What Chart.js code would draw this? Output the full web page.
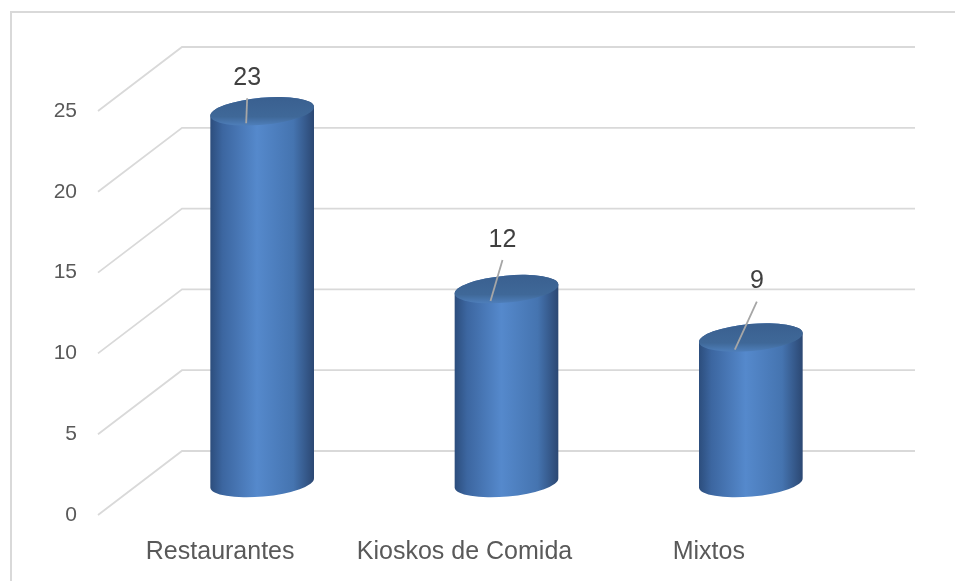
<!DOCTYPE html>
<html>
<head>
<meta charset="utf-8">
<script src="https://cdn.jsdelivr.net/npm/chart.js@4"></script>
<style>
  html, body { margin: 0; padding: 0; background: #fff; }
  #wrap { width: 955px; height: 581px; }
</style>
</head>
<body>
<div id="wrap"><canvas id="barChart" width="955" height="581"></canvas></div>
<script>
const categories = ['Restaurantes', 'Kioskos de Comida', 'Mixtos'];
const values = [23, 12, 9];
const yTicks = [0, 5, 10, 15, 20, 25];

// where each value label sits relative to the top of its cylinder (moved by hand in the original)
const labelShiftX = [-15, -4, 6];
const labelShiftY = [-33, -49, -56];

const DEPTH_X = 84, DEPTH_Y = -64;   // 3D depth of the floor/back wall
const GRID = '#d9d9d9';

const chart3d = {
  id: 'chart3d',
  beforeDraw(chart) {
    const c = chart.ctx;
    c.save();
    c.strokeStyle = GRID;
    c.lineWidth = 2;
    c.beginPath();
    c.moveTo(11, 581); c.lineTo(11, 12); c.lineTo(955, 12);
    c.stroke();
    c.restore();
  },
  beforeDatasetsDraw(chart) {
    const c = chart.ctx, y = chart.scales.y, a = chart.chartArea;
    c.save();
    c.strokeStyle = GRID;
    c.lineWidth = 1.8;
    yTicks.forEach(t => {
      const py = y.getPixelForValue(t);
      c.beginPath();
      c.moveTo(a.left, py);
      c.lineTo(a.left + DEPTH_X, py + DEPTH_Y);
      c.lineTo(a.right + DEPTH_X, py + DEPTH_Y);
      c.stroke();
    });
    c.restore();
  },
  afterDatasetsDraw(chart) {
    const c = chart.ctx;
    const meta = chart.getDatasetMeta(0);
    const rot = -0.09, ry = 13.5;
    c.save();
    meta.data.forEach((bar, i) => {
      const cx = bar.x + DEPTH_X / 2;
      const top = bar.y + DEPTH_Y / 2;
      const base = bar.base + DEPTH_Y / 2;
      const rx = bar.width / 2;

      const g = c.createLinearGradient(cx - rx, 0, cx + rx, 0);
      g.addColorStop(0, '#2c4d7c');
      g.addColorStop(0.12, '#3c66a0');
      g.addColorStop(0.45, '#5589cc');
      g.addColorStop(0.8, '#4574b0');
      g.addColorStop(1, '#2b4772');
      c.beginPath();
      c.ellipse(cx, top, rx, ry, rot, Math.PI, 0, false);
      c.ellipse(cx, base, rx, ry, rot, 0, Math.PI, false);
      c.closePath();
      c.fillStyle = g;
      c.fill();

      const tg = c.createLinearGradient(0, top - ry, 0, top + ry);
      tg.addColorStop(0, '#3a6090');
      tg.addColorStop(0.7, '#3f6898');
      tg.addColorStop(1, '#4d7db8');
      c.beginPath();
      c.ellipse(cx, top, rx, ry, rot, 0, Math.PI * 2);
      c.fillStyle = tg;
      c.fill();

      // value label with leader line
      const lx = cx + labelShiftX[i], ly = top + labelShiftY[i];
      c.strokeStyle = '#a6a6a6';
      c.lineWidth = 1.8;
      c.beginPath();
      c.moveTo(lx, ly + 20);
      c.lineTo(cx - 16, top + 12);
      c.stroke();
      c.fillStyle = '#404040';
      c.font = '25px "Liberation Sans", Arial, sans-serif';
      c.textAlign = 'center';
      c.textBaseline = 'middle';
      c.fillText(String(values[i]), lx, ly);
    });
    c.restore();
  }
};

new Chart(document.getElementById('barChart'), {
  type: 'bar',
  data: {
    labels: categories,
    datasets: [{
      data: values,
      backgroundColor: 'rgba(0,0,0,0)',
      borderWidth: 0,
      barPercentage: 0.426,
      categoryPercentage: 1
    }]
  },
  options: {
    responsive: false,
    animation: false,
    events: [],
    layout: { padding: { left: 0, right: 124, top: 111, bottom: 0 } },
    plugins: { legend: { display: false }, tooltip: { enabled: false } },
    scales: {
      x: {
        grid: { display: false, drawTicks: false },
        border: { display: false },
        ticks: {
          color: '#595959',
          font: { family: '"Liberation Sans", Arial, sans-serif', size: 25 },
          padding: 22,
          maxRotation: 0
        },
        afterFit: s => { s.height = 66; }
      },
      y: {
        min: 0,
        max: 25,
        grid: { display: false, drawTicks: false },
        border: { display: false },
        ticks: {
          stepSize: 5,
          color: '#595959',
          font: { family: '"Liberation Sans", Arial, sans-serif', size: 21 },
          padding: 21
        },
        afterFit: s => { s.width = 98; }
      }
    }
  },
  plugins: [chart3d]
});
</script>
</body>
</html>
